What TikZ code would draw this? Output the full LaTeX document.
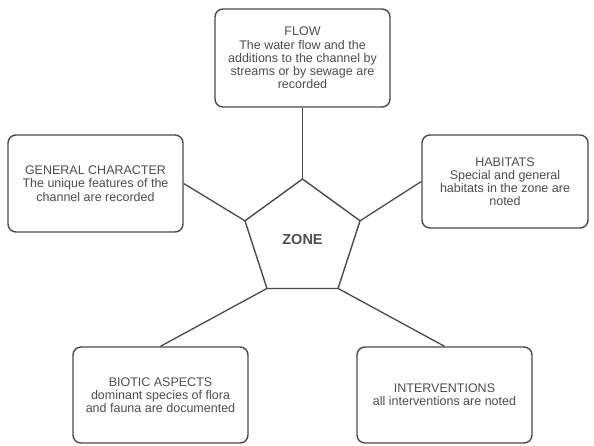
\documentclass[tikz,border=0pt]{standalone}
\usepackage{fontspec}
\setmainfont{Liberation Sans}
\usetikzlibrary{shapes.geometric}
\definecolor{boxline}{HTML}{4A4A4A}
\definecolor{boxtext}{HTML}{4D4D4D}

\begin{document}
\begin{tikzpicture}[x=1pt,y=-1pt,
	infobox/.style={draw=boxline, line width=1.4pt, rounded corners=8pt, fill=white, align=center, text=boxtext, inner sep=2pt, font=\fontsize{12.5}{13.2}\selectfont},
	zonebox/.style={draw=boxline, line width=1.4pt, regular polygon, regular polygon sides=5, minimum size=121pt, inner sep=0pt, outer sep=0pt, text=boxtext, font=\fontsize{14.5}{16}\selectfont\bfseries},
	link/.style={draw=boxline, line width=1.3pt}]
	\useasboundingbox (0,0) rectangle (594,445);

	% Centre of the diagram
	\node [zonebox] (zone) at (302.5,239.5) {ZONE};

	% Surrounding boxes
	\node [infobox, minimum width=175pt, minimum height=98pt] (flow) at (302.5,58) {FLOW\\The water flow and the\\additions to the channel by\\streams or by sewage are\\recorded};
	\node [infobox, minimum width=175pt, minimum height=97pt] (general) at (95.5,183.5) {GENERAL CHARACTER\\The unique features of the\\channel are recorded};
	\node [infobox, minimum width=166pt, minimum height=93pt] (habitats) at (505,181.5) {HABITATS\\Special and general\\habitats in the zone are\\noted};
	\node [infobox, minimum width=175pt, minimum height=96pt] (biotic) at (160.5,395) {BIOTIC ASPECTS\\dominant species of flora\\and fauna are documented};
	\node [infobox, minimum width=175pt, minimum height=96pt] (interv) at (444.5,395) {INTERVENTIONS\\all interventions are noted};

	% Connectors to the corners of the pentagon
	\draw [link] (flow.south) -- (zone.corner 1);
	\draw [link] (general.east) -- (zone.corner 2);
	\draw [link] (biotic.north) -- (zone.corner 3);
	\draw [link] (interv.north) -- (zone.corner 4);
	\draw [link] (habitats.west) -- (zone.corner 5);
\end{tikzpicture}
\end{document}
